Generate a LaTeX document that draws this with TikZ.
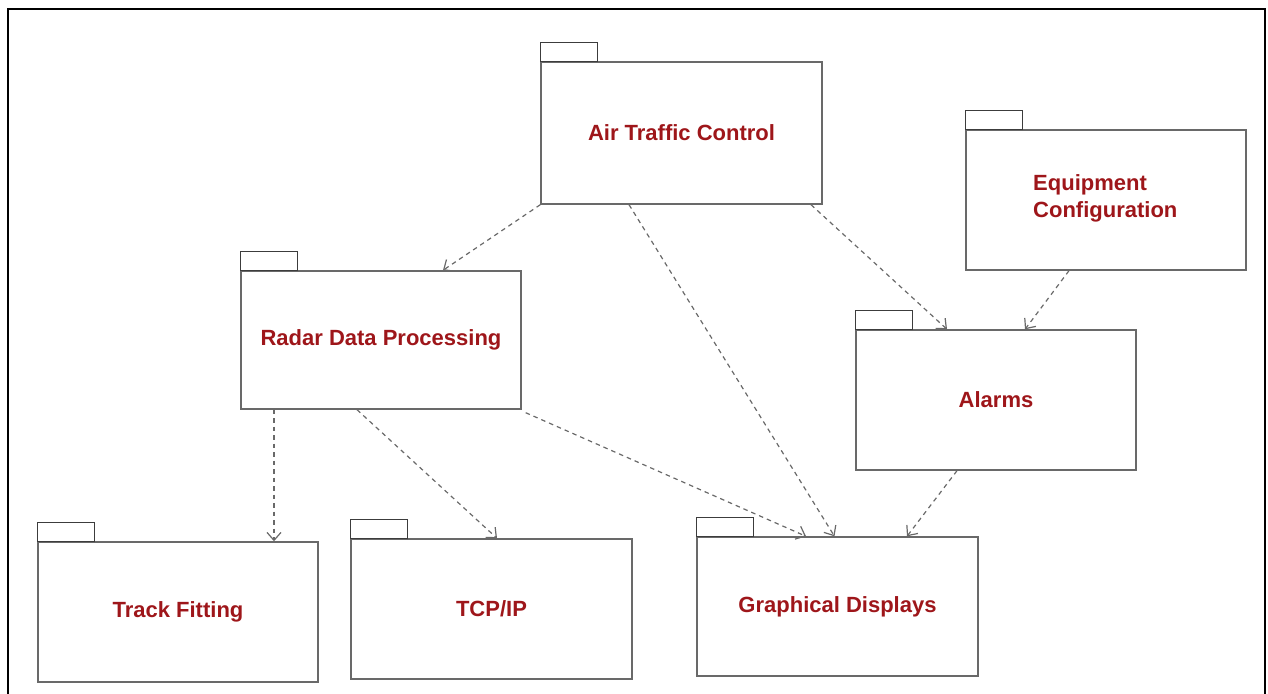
\documentclass[tikz,border=0pt]{standalone}
\usepackage{fontspec}
\setmainfont{Liberation Sans}
\usetikzlibrary{arrows.meta}

\definecolor{pkgred}{RGB}{158,22,26}
\definecolor{pkgline}{RGB}{105,105,105}
\definecolor{tabline}{RGB}{60,60,60}
\definecolor{depline}{RGB}{105,105,105}

\tikzset{
  pkg/.style={draw=pkgline, line width=1.4pt, rectangle, inner sep=0pt,
    text=pkgred, font=\fontsize{22}{27}\selectfont\bfseries, align=center},
  pkgtab/.style={draw=tabline, line width=1.4pt},
  dep/.style={draw=depline, line width=1.2pt, dash pattern=on 4.5pt off 4pt,
    -{Straight Barb[length=8pt,width=14pt,line width=1.2pt]}},
  frame/.style={draw=black, line width=2.4pt}
}

\begin{document}
\begin{tikzpicture}[x=1pt, y=-1pt]
  \useasboundingbox (0,0) rectangle (1268,693);

  % outer frame (open at the bottom)
  \coordinate (fbl) at (8,700);
  \coordinate (ftl) at (8,9);
  \coordinate (ftr) at (1265,9);
  \coordinate (fbr) at (1265,700);
  \draw[frame] (fbl) -- (ftl) -- (ftr) -- (fbr);

  % packages
  \node[pkg, minimum width=281pt, minimum height=142pt] (atc) at (681.5,133) {Air Traffic Control};
  \node[pkg, minimum width=280pt, minimum height=140pt] (eqc) at (1106,200) {};
  \node[text=pkgred, font=\fontsize{22}{27}\selectfont\bfseries, align=left, anchor=west, inner sep=0pt]
    (eqclabel) at (1033,198) {Equipment\\Configuration};
  \node[pkg, minimum width=280pt, minimum height=138pt] (rdp) at (381,340) {Radar Data Processing};
  \node[pkg, minimum width=280pt, minimum height=140pt] (alarms) at (996,400) {Alarms};
  \node[pkg, minimum width=280pt, minimum height=140pt] (tf) at (178,612) {Track Fitting};
  \node[pkg, minimum width=281pt, minimum height=140pt] (tcp) at (491.5,609) {TCP/IP};
  \node[pkg, minimum width=281pt, minimum height=139pt] (gd) at (837.5,606.5) {Graphical Displays};

  % package tabs
  \foreach \p in {atc,eqc,rdp,alarms,tf,tcp,gd}
    \draw[pkgtab] (\p.north west) rectangle ++(57,-19);

  % dependencies
  \draw[dep] (atc.south west) -- ([xshift=62pt]rdp.north);
  \draw[dep] ([xshift=-52.5pt]atc.south) -- ([xshift=-3pt]gd.north);
  \draw[dep] ([xshift=129.5pt]atc.south) -- ([xshift=-49pt]alarms.north);
  \draw[dep] ([xshift=-37pt]eqc.south) -- ([xshift=29pt]alarms.north);
  \draw[dep] ([xshift=-107pt]rdp.south) -- ([xshift=96pt]tf.north);
  \draw[dep] ([xshift=-24pt]rdp.south) -- ([xshift=5.5pt]tcp.north);
  \draw[dep] ([xshift=4pt,yshift=-3pt]rdp.south east) -- ([xshift=-31.5pt]gd.north);
  \draw[dep] ([xshift=-39pt]alarms.south) -- ([xshift=69.5pt]gd.north);
\end{tikzpicture}
\end{document}
